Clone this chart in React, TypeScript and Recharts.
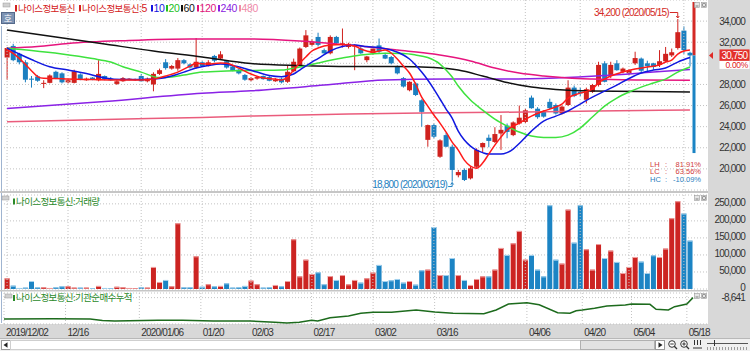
import React from "react";
import {
  ComposedChart,
  Bar,
  Line,
  XAxis,
  YAxis,
  CartesianGrid,
  ReferenceLine,
  ReferenceArea,
  ReferenceDot,
} from "recharts";

const FONT = "'Liberation Sans', Arial, sans-serif";
const KFONT = "'Noto Sans CJK KR', 'Noto Sans', sans-serif";

const WIDTH = 750;
const AXIS_W = 43;
const PLOT_LEFT = 4;
const PAD_RIGHT = 14;

const UP = "#d0221e";
const DOWN = "#1b7fc0";
const VUP = "#cc2422";
const VDOWN = "#1c84c4";
const GRID = "#c2c2c2";

// ---------- categories (trading days) ----------
const dec2019 = [2, 3, 4, 5, 6, 9, 10, 11, 12, 13, 16, 17, 18, 19, 20, 23, 24, 26, 27, 30];
const jan2020 = [2, 3, 6, 7, 8, 9, 10, 13, 14, 15, 16, 17, 20, 21, 22, 23, 28, 29, 30, 31];
const feb2020 = [3, 4, 5, 6, 7, 10, 11, 12, 13, 14, 17, 18, 19, 20, 21, 24, 25, 26, 27, 28];
const mar2020 = [2, 3, 4, 5, 6, 9, 10, 11, 12, 13, 16, 17, 18, 19, 20, 23, 24, 25, 26, 27, 30, 31];
const apr2020 = [1, 2, 3, 6, 7, 8, 9, 10, 13, 14, 16, 17, 20, 21, 22, 23, 24, 27, 28, 29];
const may2020 = [4, 6, 7, 8, 11, 12, 13, 14, 15, 18, 19];
const monthDays: [string, number[]][] = [
  ["2019/12", dec2019],
  ["2020/01", jan2020],
  ["2020/02", feb2020],
  ["2020/03", mar2020],
  ["2020/04", apr2020],
  ["2020/05", may2020],
];
const dates: string[] = monthDays.flatMap(([m, ds]) =>
  ds.map((d) => `${m}/${String(d).padStart(2, "0")}`)
);

const xTicks = [
  "2019/12/02", "2019/12/16", "2020/01/06", "2020/01/20", "2020/02/03", "2020/02/17",
  "2020/03/02", "2020/03/16", "2020/04/06", "2020/04/20", "2020/05/04", "2020/05/18",
];
const xTickLabels = [
  "2019/12/02", "12/16", "2020/01/06", "01/20", "02/03", "02/17",
  "03/02", "03/16", "04/06", "04/20", "05/04", "05/18",
];

const priceTicks = [20000, 22000, 24000, 26000, 28000, 30000, 32000, 34000];
const volTicks = [0, 50000, 100000, 150000, 200000, 250000];

// ---------- OHLC ----------
const opens = [
  30550, 31650, 30900, 30100, 28550, 28750, 28050, 28150, 29200, 29050,
  28200, 28150, 28950, 28400, 28650, 28400, 28800, 28550, 28050, 28300,
  28450, 28400, 28800, 28300, 28000, 29000, 30100, 29500, 29500, 30300,
  29900, 29600, 30100, 29750, 30700, 30450, 30200, 29700, 29400, 28900,
  28400, 28550, 28800, 28700, 28300, 28550, 28250, 29250, 29850, 31550,
  31750, 32500, 31250, 30950, 32500, 31800, 31550, 31600, 31400, 30300,
  30950, 31700, 30800, 30600, 29650, 28600, 27450, 28100, 26500, 22750,
  24150, 21150, 23200, 22100, 19400, 19900, 19100, 20200, 22050, 22950,
  22550, 23350, 24100, 23200, 24300, 24450, 26750, 25700, 25400, 26350,
  26050, 25250, 26050, 27700, 27300, 26550, 27300, 27950, 30000, 28900,
  30000, 29200, 29050, 30000, 30450, 30000, 30000, 29850, 30200, 30750,
  31450, 33100, 31000,
];
const highs = [
  31550, 31850, 31000, 30300, 28800, 28900, 28400, 28950, 29300, 29150,
  28500, 29400, 29050, 28650, 28700, 30300, 28850, 28700, 28400, 28700,
  28600, 28550, 29000, 28650, 29150, 29500, 30400, 29850, 30500, 30400,
  30000, 32400, 30200, 30300, 30800, 31150, 30300, 29800, 29500, 29000,
  28700, 28800, 28850, 28800, 28600, 28650, 29800, 30450, 31500, 33150,
  32300, 32900, 31400, 32650, 32600, 33300, 31950, 31800, 31600, 30700,
  31550, 32350, 31000, 30700, 29800, 28700, 28300, 28200, 26600, 24200,
  24300, 22800, 23400, 22300, 19900, 20050, 20200, 21950, 22500, 23250,
  23950, 25100, 24300, 24500, 26000, 25700, 26950, 25850, 25550, 26650,
  26200, 26000, 28400, 27900, 27700, 27700, 28050, 30150, 30200, 30150,
  30300, 29600, 29450, 31100, 30550, 30250, 30050, 31250, 31550, 31400,
  34200, 33500, 31100,
];
const lows = [
  28450, 30200, 29900, 28200, 27700, 28250, 27650, 28100, 28500, 28100,
  28100, 28100, 28400, 28350, 28400, 28300, 28400, 28350, 27950, 28250,
  28400, 28350, 28250, 28200, 27350, 28900, 29400, 29400, 29300, 29900,
  29500, 29500, 29650, 29700, 30100, 30400, 29500, 29250, 28950, 28350,
  28300, 28450, 28450, 28300, 28250, 28100, 28150, 29150, 29800, 31450,
  31600, 31600, 30900, 30850, 31800, 31500, 31400, 29350, 30900, 30100,
  30800, 30900, 30400, 29900, 28950, 27700, 27350, 26900, 24000, 22100,
  22900, 21050, 22050, 18800, 19200, 18850, 19000, 20100, 21600, 22050,
  22450, 21800, 22900, 23100, 24200, 24350, 25700, 24750, 24850, 25650,
  25150, 25150, 25950, 26800, 26900, 26200, 27200, 27800, 28200, 28600,
  29300, 29050, 28900, 29850, 29100, 29100, 29400, 29650, 30100, 30600,
  31300, 30900, 29700,
];
const closes = [
  31450, 30300, 30100, 28450, 28450, 28350, 28150, 28850, 28600, 28200,
  28400, 29250, 28500, 28550, 28450, 29000, 28500, 28400, 28300, 28600,
  28550, 28500, 28300, 28550, 29000, 29350, 29550, 29750, 30300, 30000,
  29600, 30150, 29750, 30100, 30250, 30850, 29600, 29300, 29050, 28450,
  28600, 28700, 28500, 28350, 28450, 28200, 29200, 30150, 31400, 32650,
  32050, 31750, 30950, 32500, 31900, 31900, 31850, 31750, 30950, 30650,
  31400, 31100, 30450, 30000, 29050, 27800, 28250, 27000, 25400, 24150,
  23050, 22700, 22100, 19900, 19700, 18950, 20050, 21800, 22450, 22650,
  23300, 23700, 23500, 24400, 24850, 25550, 25750, 24900, 24950, 25750,
  25250, 25900, 27700, 26900, 27150, 27550, 27950, 29850, 28250, 29850,
  29350, 29500, 29350, 30500, 29300, 29750, 29650, 30200, 30900, 31050,
  32950, 31250, 30750,
];
const volumes = [
  31400, 9800, 3000, 4000, 23500, 5000, 5000, 3000, 5000, 8000,
  8000, 4000, 4000, 4000, 2000, 9000, 3000, 2000, 6500, 5000,
  3000, 2000, 5000, 4000, 64700, 20600, 26500, 8000, 193000, 5000,
  5000, 96000, 6500, 14000, 8000, 9000, 16700, 4000, 5000, 9000,
  24500, 14000, 4000, 5000, 11800, 8000, 23500, 146000, 37000, 86000,
  44000, 49000, 14000, 38000, 26500, 41000, 13700, 26500, 18600, 31400,
  48000, 70600, 23500, 25500, 29400, 18600, 23500, 12700, 54900, 56800,
  182000, 41000, 41000, 91000, 41000, 26500, 11800, 29400, 37000, 37000,
  56800, 120500, 100000, 134000, 170500, 86000, 100000, 56800, 37000, 246000,
  86000, 74500, 233000, 136000, 246000, 116600, 56800, 132000, 91000, 112700,
  79400, 47000, 64700, 94000, 80400, 47000, 99000, 94000, 118600, 207800,
  257700, 221500, 142000,
];

// ---------- moving averages as [day index, value] ----------
const ma5Pts = [
  [0, 31260], [1, 30950], [2, 30470], [3, 29900], [4, 29300], [5, 28750], [6, 28580], [8, 28560],
  [10, 28510], [14, 28460], [18, 28420], [22, 28420], [24, 28510], [26, 28800], [28, 29170],
  [30, 29740], [31, 30000], [33, 29930], [35, 30030], [36, 30000], [38, 29550], [40, 28990],
  [42, 28610], [44, 28510], [45, 28420], [46, 28700], [47, 29360], [48, 30030], [49, 30600],
  [50, 31170], [51, 31450], [53, 31730], [55, 31780], [57, 31640], [58, 31360], [60, 31070],
  [61, 31170], [62, 31260], [63, 30980], [64, 30410], [65, 29740], [66, 29080], [67, 28040],
  [68, 26800], [69, 25950], [70, 25100], [71, 24340], [72, 23490], [73, 22540], [74, 21780],
  [75, 20830], [76, 20260], [77, 20070], [78, 20550], [79, 21400], [80, 22250], [81, 23010],
  [82, 23680], [84, 24340], [86, 25000], [88, 25480], [90, 25860], [91, 26140], [92, 26710],
  [94, 27180], [96, 27560], [97, 28130], [98, 28510], [99, 28800], [101, 29170], [103, 29460],
  [105, 29650], [107, 29840], [108, 30120], [109, 30310], [110, 30880], [111, 31170], [112, 31260],
];
const ma10Pts = [
  [0, 31450], [2, 30880], [4, 30360], [7, 29680], [10, 29360], [13, 29030], [16, 28610], [19, 28460],
  [22, 28460], [25, 28560], [27, 28800], [29, 29170], [31, 29550], [33, 29790], [35, 29930],
  [37, 29790], [39, 29510], [41, 29170], [43, 28840], [45, 28730], [47, 28990], [48, 29360],
  [50, 30120], [51, 30450], [53, 31170], [55, 31590], [57, 31730], [59, 31590], [61, 31500],
  [63, 31260], [65, 30790], [66, 30410], [67, 29840], [68, 29170], [69, 28420], [70, 27560],
  [71, 26620], [72, 25670], [73, 24810], [74, 23580], [75, 22730], [76, 22160], [77, 21780],
  [78, 21540], [79, 21400], [81, 21400], [82, 21540], [83, 21880], [84, 22400], [86, 23580],
  [88, 24530], [90, 25000], [92, 25480], [94, 26140], [96, 26800], [98, 27370], [100, 27940],
  [102, 28560], [104, 29080], [106, 29360], [108, 29550], [110, 30120], [112, 30550],
];
const ma20Pts = [
  [0, 31420], [4, 31210], [9, 30880], [14, 30450], [17, 30120], [19, 29680], [22, 29170],
  [25, 28650], [27, 28700], [29, 28890], [32, 29170], [36, 29270], [40, 29320], [45, 29360],
  [48, 29650], [51, 30030], [55, 30500], [58, 30790], [62, 30950], [65, 30930], [67, 30790],
  [69, 30550], [71, 29930], [72, 29360], [73, 28700], [74, 27850], [76, 26520], [78, 25570],
  [80, 24720], [82, 24060], [84, 23490], [86, 23110], [88, 22970], [90, 22970], [92, 23200],
  [94, 23870], [96, 24910], [98, 25950], [100, 26710], [102, 27280], [104, 27750], [106, 28130],
  [108, 28510], [110, 29170], [112, 29650],
];
const ma60Pts = [
  [0, 33160], [8, 32490], [16, 31830], [24, 31170], [32, 30600], [40, 29980], [48, 29790],
  [56, 29700], [64, 29700], [70, 29600], [74, 29360], [78, 28800], [82, 28180], [86, 27750],
  [90, 27520], [96, 27370], [104, 27330], [112, 27280],
];
const ma120Pts = [
  [0, 31420], [5, 31590], [10, 31880], [20, 32160], [30, 32300], [40, 32300], [48, 32110],
  [56, 31730], [64, 31260], [70, 30880], [72, 30690], [76, 30220], [80, 29550], [84, 29080],
  [88, 28800], [92, 28610], [96, 28510], [104, 28420], [112, 28390],
];
const ma240Pts = [
  [0, 25730], [16, 26380], [32, 27160], [40, 27400], [52, 27940], [62, 28420], [72, 28510],
  [82, 28510], [90, 28610], [98, 28840], [106, 29170], [112, 29410],
];
const ma480Pts = [
  [0, 24460], [16, 24690], [32, 24880], [40, 25000], [56, 25190], [72, 25320], [88, 25410],
  [104, 25530], [112, 25570],
];

// ---------- institutional net buying (cumulative) ----------
const instPts = [
  [0, -30000], [8, -29800], [14, -30000], [16, -31500], [18, -32000], [25, -31300], [29, -31300],
  [34, -32000], [40, -32000], [44, -33300], [46, -34000], [48, -33300], [50, -31300], [51, -32000],
  [53, -28700], [56, -27000], [58, -24300], [60, -23300], [63, -23300], [67, -21000], [70, -23000],
  [73, -24300], [78, -24700], [80, -21000], [82, -15000], [85, -13700], [87, -15700], [90, -23700],
  [92, -24300], [93, -21700], [94, -21000], [96, -19300], [98, -17000], [101, -16000], [102, -15000],
  [105, -15300], [106, -20300], [108, -21000], [109, -17700], [111, -15000], [112, -8641],
];
const instTicks = [-8641];

const stripLow = 21500;
const changeText = "0.00%";

// ---------- derived rows ----------
const rows: any[] = dates.map((d, i) => ({
  d,
  open: opens[i],
  high: highs[i],
  low: lows[i],
  close: closes[i],
  vol: volumes[i],
}));
const put = (key: string, pts: number[][]) => {
  for (const [i, v] of pts) rows[i][key] = v;
};
put("ma5", ma5Pts);
put("ma10", ma10Pts);
put("ma20", ma20Pts);
put("ma60", ma60Pts);
put("ma120", ma120Pts);
put("ma240", ma240Pts);
put("ma480", ma480Pts);
put("inst", instPts);

const lastClose = closes[closes.length - 1];
const hiVal = Math.max(...highs);
const hiIdx = highs.indexOf(hiVal);
const loVal = Math.min(...lows);
const loIdx = lows.indexOf(loVal);
const pct = (v: number) => `${v.toFixed(2)}%`;
const LH = pct(((hiVal - loVal) / loVal) * 100);
const LC = pct(((lastClose - loVal) / loVal) * 100);
const HC = pct(((lastClose - hiVal) / hiVal) * 100);

const fmt = (v: number) => v.toLocaleString("en-US");

const axisText: any = {
  fontFamily: FONT,
  fontSize: 10,
  fill: "#333",
  letterSpacing: "-0.8px",
};

// ---------- custom renderers ----------
const RightTick = (props: any) => {
  const { x, y, payload } = props;
  return (
    <text x={x + AXIS_W - 5} y={y + 3.6} textAnchor="end" style={axisText}>
      {fmt(payload.value)}
    </text>
  );
};
const VolTick = (props: any) => {
  const { x, y, payload } = props;
  return (
    <text x={x + AXIS_W - 5} y={y + 2.4} textAnchor="end" style={axisText}>
      {fmt(payload.value)}
    </text>
  );
};
const PriceTick = (props: any) => {
  if (Math.abs(props.payload.value - lastClose) < 1000) return null;
  return <RightTick {...props} />;
};

// vertical dotted grid line at a date tick (optionally with the date label under the plot)
const makeDateLine = (label: string | null) => (p: any) => {
  const x = p.x1;
  const yTop = Math.min(p.y1, p.y2);
  const yBot = Math.max(p.y1, p.y2);
  return (
    <g>
      <line x1={x} x2={x} y1={yTop} y2={yBot} stroke={GRID} strokeDasharray="1 2" />
      {label != null && (
        <text x={x + 2} y={yBot + 12} textAnchor="start" style={axisText}>
          {label}
        </text>
      )}
    </g>
  );
};
const dateLines = (withLabels: boolean) =>
  xTicks.map((t, i) => (
    <ReferenceLine
      key={t}
      x={t}
      ifOverflow="visible"
      shape={makeDateLine(withLabels ? xTickLabels[i] : null)}
    />
  ));

const Candle = (p: any) => {
  const { x, y, width, height, payload } = p;
  if (!payload || height == null) return null;
  const { open, close, high, low } = payload;
  const top = Math.min(y, y + height);
  const h = Math.abs(height);
  const k = h / (high - low || 1);
  const py = (v: number) => top + (high - v) * k;
  const cx = x + width / 2;
  const color = close >= open ? UP : DOWN;
  const bTop = py(Math.max(open, close));
  const bBot = py(Math.min(open, close));
  return (
    <g>
      <line x1={cx} x2={cx} y1={top} y2={top + h} stroke={color} strokeWidth={1} />
      <rect x={cx - 2.5} y={bTop} width={5} height={Math.max(1, bBot - bTop)} fill={color} />
    </g>
  );
};

const VolBar = (p: any) => {
  const { x, y, width, height, payload } = p;
  if (!payload || !height) return null;
  const up = payload.close >= payload.open;
  const cx = x + width / 2;
  const top = Math.min(y, y + height);
  const h = Math.abs(height);
  return (
    <g>
      <rect x={cx - 2.5} y={top} width={5} height={h} fill={up ? VUP : VDOWN} />
      <rect x={cx - 2.5} y={top} width={5} height={1} fill={up ? "#f0a0a0" : "#a4d2ee"} />
    </g>
  );
};

const RedStrip = (p: any) => (
  <rect x={p.x + p.width - 0.5} y={p.y + 2} width={3} height={Math.max(0, p.height - 2)} fill="#d42a26" />
);
const BlueStrip = (p: any) => (
  <rect x={p.x + p.width - 0.5} y={p.y} width={3} height={p.height} fill="#1b84c4" />
);

const PriceTag = (p: any) => {
  const xr = Math.max(p.x1, p.x2);
  const y = p.y1;
  return (
    <g>
      <polygon points={`${xr + 2},${y} ${xr + 6},${y - 3.5} ${xr + 6},${y + 3.5}`} fill="#e02a26" />
      <rect x={xr + 12.5} y={y - 6} width={30} height={11.5} fill="#e3302b" />
      <text x={xr + 27.5} y={y + 3.4} textAnchor="middle" style={{ ...axisText, fill: "#fff" }}>
        {fmt(lastClose)}
      </text>
      <rect x={xr + 12.5} y={y + 5.5} width={30} height={8} fill="#fff" />
      <text x={xr + 41} y={y + 12.2} textAnchor="end" style={{ ...axisText, fontSize: 8.5, fill: "#e02020", letterSpacing: "-0.3px" }}>
        {changeText}
      </text>
    </g>
  );
};

const HighNote = (p: any) => {
  const { cx, cy } = p;
  const c = "#d42a26";
  return (
    <g>
      <text x={cx - 9} y={cy - 3} textAnchor="end" style={{ ...axisText, fill: c }}>
        {`${fmt(hiVal)} (${dates[hiIdx]})`}
      </text>
      <line x1={cx - 8} x2={cx} y1={cy - 6.5} y2={cy - 6.5} stroke={c} />
      <line x1={cx} x2={cx} y1={cy - 6.5} y2={cy - 1} stroke={c} />
      <polyline points={`${cx - 1.5},${cy - 3} ${cx},${cy - 1} ${cx + 1.5},${cy - 3}`} fill="none" stroke={c} />
    </g>
  );
};

const LowNote = (p: any) => {
  const { cx, cy } = p;
  const c = "#1f7fc0";
  return (
    <g>
      <text x={cx - 5} y={cy + 6.8} textAnchor="end" style={{ ...axisText, fill: c }}>
        {`${fmt(loVal)} (${dates[loIdx]})`}
      </text>
      <line x1={cx - 4} x2={cx} y1={cy + 5} y2={cy + 5} stroke={c} />
      <line x1={cx} x2={cx} y1={cy + 5} y2={cy + 1} stroke={c} />
      <polyline points={`${cx - 1.5},${cy + 3} ${cx},${cy + 1} ${cx + 1.5},${cy + 3}`} fill="none" stroke={c} />
    </g>
  );
};

const xAxisProps: any = {
  dataKey: "d",
  type: "category",
  padding: { left: 0, right: PAD_RIGHT },
};
const yAxisBase: any = {
  orientation: "right",
  type: "number",
  width: AXIS_W,
  tickLine: false,
  axisLine: false,
  tickSize: 0,
  tickMargin: 0,
  interval: 0,
  allowDataOverflow: true,
};

const maLine = (key: string, color: string) => (
  <Line
    key={key}
    dataKey={key}
    type="monotone"
    stroke={color}
    strokeWidth={1.5}
    dot={false}
    activeDot={false}
    connectNulls
    isAnimationActive={false}
  />
);

function PriceChart() {
  return (
    <ComposedChart width={WIDTH} height={191} data={rows} margin={{ top: 0, right: 0, bottom: 1, left: PLOT_LEFT }}>
      <CartesianGrid stroke={GRID} strokeDasharray="1 2" vertical={false} />
      <XAxis {...xAxisProps} hide />
      <YAxis {...yAxisBase} domain={[18000, 36000]} ticks={priceTicks} tick={PriceTick} />
      {dateLines(false)}
      <ReferenceArea y1={lastClose} y2={36000} ifOverflow="visible" shape={RedStrip} />
      <ReferenceArea y1={stripLow} y2={lastClose} ifOverflow="visible" shape={BlueStrip} />
      <Bar dataKey={(r: any) => [r.low, r.high]} shape={Candle} isAnimationActive={false} />
      {maLine("ma480", "#ea5c7c")}
      {maLine("ma240", "#8a22e6")}
      {maLine("ma120", "#e6157e")}
      {maLine("ma60", "#111111")}
      {maLine("ma20", "#3ee23e")}
      {maLine("ma10", "#1018e0")}
      {maLine("ma5", "#ff1a1a")}
      <ReferenceLine y={lastClose} stroke="none" ifOverflow="visible" shape={PriceTag} />
      <ReferenceDot x={dates[hiIdx]} y={hiVal} r={0} ifOverflow="visible" shape={HighNote} />
      <ReferenceDot x={dates[loIdx]} y={loVal} r={0} ifOverflow="visible" shape={LowNote} />
    </ComposedChart>
  );
}

function VolumeChart() {
  return (
    <ComposedChart width={WIDTH} height={99} data={rows} margin={{ top: 2, right: 0, bottom: 3, left: PLOT_LEFT }}>
      <CartesianGrid stroke={GRID} strokeDasharray="1 2" vertical={false} />
      <XAxis {...xAxisProps} hide />
      <YAxis {...yAxisBase} domain={[0, 276000]} ticks={volTicks} tick={VolTick} />
      {dateLines(false)}
      <Bar dataKey="vol" shape={VolBar} isAnimationActive={false} />
    </ComposedChart>
  );
}

function InstChart() {
  return (
    <ComposedChart width={WIDTH} height={47} data={rows} margin={{ top: 2, right: 0, bottom: 0, left: PLOT_LEFT }}>
      <CartesianGrid stroke={GRID} strokeDasharray="1 2" vertical={false} />
      <XAxis {...xAxisProps} height={14} tick={false} tickLine={false} axisLine={false} />
      <YAxis {...yAxisBase} domain={[-35000, -4000]} ticks={instTicks} tick={RightTick} />
      {dateLines(true)}
      <Line
        dataKey="inst"
        type="linear"
        stroke="#1d6b1d"
        strokeWidth={1.5}
        dot={false}
        activeDot={false}
        connectNulls
        isAnimationActive={false}
      />
    </ComposedChart>
  );
}

const legendMas = [
  { x: 151, color: "#1414e0", text: "10" },
  { x: 166, color: "#22c022", text: "20" },
  { x: 181, color: "#111111", text: "60" },
  { x: 197, color: "#e0147a", text: "120" },
  { x: 218, color: "#8a20e0", text: "240" },
  { x: 239, color: "#f08aa8", text: "480" },
];

const kText: any = { fontFamily: KFONT, fontSize: 9.5, letterSpacing: "-0.6px" };
const numText: any = { fontFamily: FONT, fontSize: 10.5, letterSpacing: "-0.4px" };

function PanelIcons({ y, lx }: { y: number; lx: number }) {
  return (
    <g>
      <rect x={lx} y={y} width={7} height={4} fill="#d0d0d0" stroke="#9a9a9a" strokeWidth={0.5} />
      <rect x={694.5} y={y - 0.5} width={5} height={5} fill="#e6e6e6" stroke="#9a9a9a" strokeWidth={0.6} />
      <line x1={695.5} x2={698.5} y1={y + 3} y2={y + 3} stroke="#666" strokeWidth={0.8} />
      <rect x={701.5} y={y - 0.5} width={5} height={5} fill="#e6e6e6" stroke="#9a9a9a" strokeWidth={0.6} />
      <rect x={702.7} y={y + 0.7} width={2.6} height={2.6} fill="none" stroke="#666" strokeWidth={0.6} />
    </g>
  );
}

function Overlay() {
  const sm: any = { fontFamily: FONT, fontSize: 7.5 };
  return (
    <svg width={750} height={351} style={{ position: "absolute", left: 0, top: 0, pointerEvents: "none" }}>
      {/* left border */}
      <line x1={1.5} x2={1.5} y1={26} y2={323} stroke="#9fb4d0" strokeWidth={1} />
      {/* separators */}
      <rect x={0} y={191} width={708} height={2} fill="#c6c6c6" />
      <rect x={0} y={290} width={708} height={1.5} fill="#c6c6c6" />

      {/* top legend */}
      <PanelIcons y={3} lx={3} />
      <rect x={15} y={5} width={2} height={6.5} fill="#d42020" />
      <text x={18} y={11.5} style={{ ...kText, fill: "#d42020" }}>나이스정보통신</text>
      <rect x={79} y={5} width={2} height={6.5} fill="#d42020" />
      <text x={82} y={11.5} style={{ fill: "#d42020" }}>
        <tspan style={kText}>나이스정보통신</tspan>
        <tspan style={numText}>:5</tspan>
      </text>
      {legendMas.map((m) => (
        <g key={m.text}>
          <rect x={m.x} y={5} width={2} height={6.5} fill={m.color} />
          <text x={m.x + 2.5} y={11.8} style={{ ...numText, fill: m.color }}>
            {m.text}
          </text>
        </g>
      ))}
      {/* 호 button */}
      <rect x={1.5} y={12.5} width={13} height={11} fill="#7d93b3" stroke="#55698a" strokeWidth={1} />
      <text x={8} y={21.5} textAnchor="middle" style={{ fontFamily: KFONT, fontSize: 9, fill: "#fff" }}>호</text>

      {/* LH / LC / HC */}
      <text x={650} y={166.5} style={{ ...sm, fill: "#d03c3c" }}>LH</text>
      <text x={665} y={166.5} style={{ ...sm, fill: "#d03c3c" }}>:</text>
      <text x={701} y={166.5} textAnchor="end" style={{ ...sm, fill: "#d03c3c" }}>{LH}</text>
      <text x={650} y={174} style={{ ...sm, fill: "#d03c3c" }}>LC</text>
      <text x={665} y={174} style={{ ...sm, fill: "#d03c3c" }}>:</text>
      <text x={701} y={174} textAnchor="end" style={{ ...sm, fill: "#d03c3c" }}>{LC}</text>
      <text x={650} y={181.5} style={{ ...sm, fill: "#2a80c0" }}>HC</text>
      <text x={665} y={181.5} style={{ ...sm, fill: "#2a80c0" }}>:</text>
      <text x={701} y={181.5} textAnchor="end" style={{ ...sm, fill: "#2a80c0" }}>{HC}</text>

      {/* volume legend */}
      <PanelIcons y={196} lx={2} />
      <rect x={13} y={198.5} width={2} height={6} fill="#2a8a2a" />
      <text x={16} y={204.8} style={{ ...kText, fill: "#2a8a2a" }}>나이스정보통신:거래량</text>

      {/* inst legend */}
      <PanelIcons y={294} lx={5} />
      <rect x={13} y={295} width={2} height={6} fill="#2a8a2a" />
      <text x={16} y={301.2} style={{ ...kText, fill: "#2a8a2a" }}>나이스정보통신:기관순매수누적</text>

      {/* bottom toolbar */}
      <rect x={0} y={338} width={750} height={13} fill="#f0f0f0" />
      <line x1={0} x2={750} y1={338.5} y2={338.5} stroke="#b8b8b8" />
      <rect x={1.5} y={340.5} width={9} height={9} fill="#fff" stroke="#9a9a9a" />
      <polygon points="3.5,345 7.5,342.3 7.5,347.7" fill="#222" />
      <rect x={10.5} y={340.5} width={645} height={9} fill="#fff" stroke="#cfcfcf" />
      <rect x={580.5} y={340.5} width={74} height={9} fill="#e2e2e2" stroke="#b0b0b0" />
      <rect x={655.5} y={340.5} width={9} height={9} fill="#fff" stroke="#9a9a9a" />
      <polygon points="662.5,345 658.5,342.3 658.5,347.7" fill="#222" />
      <circle cx={672} cy={344} r={3.3} fill="#fff" stroke="#333" />
      <line x1={674.3} y1={346.3} x2={677} y2={349} stroke="#333" strokeWidth={1.3} />
      <line x1={670.3} y1={344} x2={673.7} y2={344} stroke="#333" />
      <circle cx={684} cy={344} r={3.3} fill="#fff" stroke="#333" />
      <line x1={686.3} y1={346.3} x2={689} y2={349} stroke="#333" strokeWidth={1.3} />
      <line x1={682.3} y1={344} x2={685.7} y2={344} stroke="#333" />
      <line x1={684} y1={342.3} x2={684} y2={345.7} stroke="#333" />
      {[694, 697, 700].map((x) => (
        <line key={x} x1={x + 0.5} x2={x + 0.5} y1={340} y2={345} stroke="#333" />
      ))}
      <line x1={693} x2={702} y1={348} y2={348} stroke="#333" />
      <line x1={707} x2={748} y1={343.5} y2={343.5} stroke="#555" />
      <line x1={714.5} x2={714.5} y1={340} y2={346} stroke="#333" />
      {Array.from({ length: 14 }, (_, i) => (
        <line key={i} x1={707.5 + i * 3} x2={707.5 + i * 3} y1={347} y2={350} stroke="#777" strokeWidth={0.7} />
      ))}
    </svg>
  );
}

export default function App() {
  return (
    <div
      style={{
        position: "absolute",
        left: 0,
        top: 0,
        width: 750,
        height: 351,
        background: "#fff",
        overflow: "hidden",
        fontFamily: FONT,
      }}
    >
      <div style={{ position: "absolute", left: 708, top: 0, width: 42, height: 338, background: "#d8d8d8" }} />
      <div style={{ position: "absolute", left: 0, top: 324, width: 750, height: 14, background: "#d8d8d8" }} />
      <div style={{ position: "absolute", left: 0, top: 0 }}>
        <PriceChart />
      </div>
      <div style={{ position: "absolute", left: 0, top: 193 }}>
        <VolumeChart />
      </div>
      <div style={{ position: "absolute", left: 0, top: 291 }}>
        <InstChart />
      </div>
      <Overlay />
    </div>
  );
}
